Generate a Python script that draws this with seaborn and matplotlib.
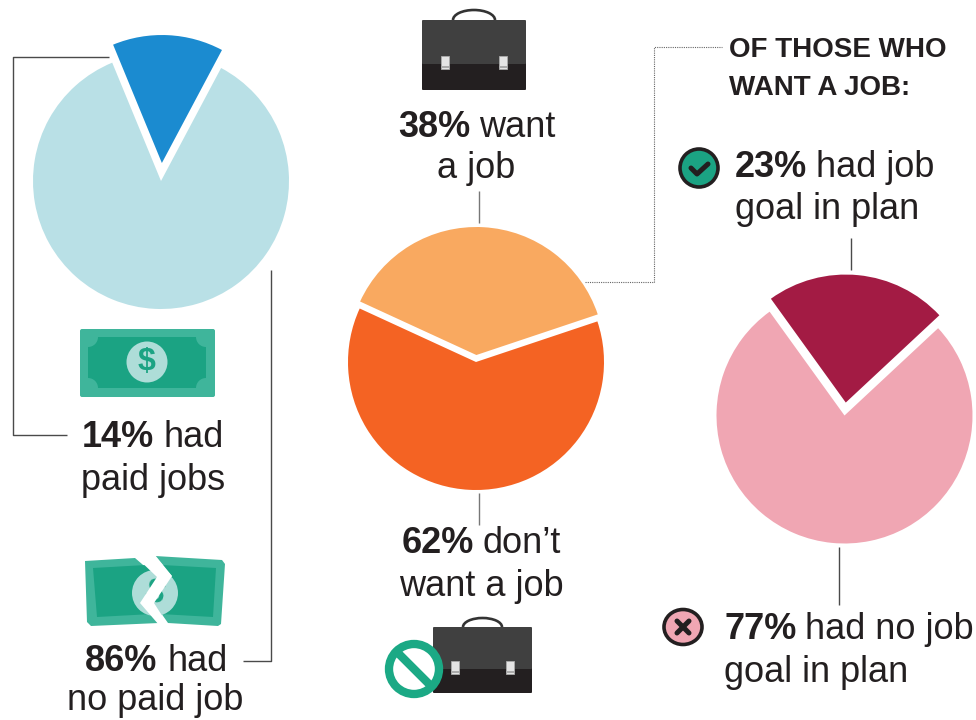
import matplotlib
matplotlib.use('Agg')
import matplotlib.pyplot as plt
import matplotlib.patches as mp
import seaborn as sns

# data
paid_values = [14, 86]
paid_colors = ['#1B8BD0', '#B9E0E6']
want_values = [38, 62]
want_colors = ['#F9A960', '#F46323']
goal_values = [23, 77]
goal_colors = ['#A31B44', '#F0A6B3']

header_lines = ['OF THOSE WHO', 'WANT A JOB:']
bold_labels = ['14%', '86%', '38%', '62%', '23%', '77%']
rest_first = ['had', 'had', 'want', 'don’t', 'had job', 'had no job']
rest_second = ['paid jobs', 'no paid job', 'a job', 'want a job', 'goal in plan', 'goal in plan']

INK = '#231F20'
LINE = '#4A4A4A'
GREEN = '#1BA383'
GREEN_L = '#3FB59B'
GREEN_XL = '#AEDDD8'

sns.set_theme(style='white')
plt.rcParams['font.family'] = ['Liberation Sans', 'DejaVu Sans']

fig = plt.figure(figsize=(9.76, 7.2), dpi=100)
ax = fig.add_axes([0, 0, 1, 1])


def Y(y):
    return 720 - y


def pts(seq):
    return [(x, Y(y)) for x, y in seq]


def pie(values, colors, cx, cy, start, gap):
    ax.pie(values, colors=colors, center=(cx, Y(cy)), radius=128, startangle=start,
           explode=[gap, 0], frame=True, counterclock=True,
           wedgeprops={'edgecolor': 'white', 'linewidth': 0})


pie(paid_values, paid_colors, 161, 181, 62, 18)
pie(want_values, want_colors, 476, 362, 18.5, 7)
pie(goal_values, goal_colors, 844.5, 415.5, 43, 13)

ax.set_xlim(0, 976)
ax.set_ylim(0, 720)
ax.set_aspect('equal')
ax.axis('off')


def line(seq, **kw):
    xs, ys = zip(*pts(seq))
    style = {'color': LINE, 'lw': 1.0, 'solid_capstyle': 'butt'}
    style.update(kw)
    ax.plot(xs, ys, **style)


line([(109, 57), (13, 57), (13, 435), (67, 435)])
line([(271, 270), (271, 661), (243, 661)])
line([(479, 191), (479, 223)], color='#777777')
line([(479, 493), (479, 525)], color='#777777')
line([(851, 238), (851, 270)])
line([(839, 547), (839, 605)])
line([(585, 282), (654, 282), (654, 47), (722, 47)], ls=(0, (1, 1)), lw=0.8, color='#666666')


def label(i, x1, x2, y1, x3, y2, size=26):
    ax.text(x1, Y(y1), bold_labels[i], fontsize=size, fontweight='bold', color=INK, ha='left', va='baseline')
    ax.text(x2, Y(y1), rest_first[i], fontsize=size, color=INK, ha='left', va='baseline')
    ax.text(x3, Y(y2), rest_second[i], fontsize=size, color=INK, ha='left', va='baseline')


label(0, 82, 163, 447, 81, 490)
label(1, 85, 167, 671, 67, 710)
label(2, 398, 479, 137, 437, 178)
label(3, 402, 483, 553, 399, 596)
label(4, 735, 816, 177, 735, 219)
label(5, 724, 805, 639, 724, 682)

# no narrow bold installed, so the header is set a little smaller to keep its width
ax.text(729, Y(57), header_lines[0], fontsize=20, fontweight='bold', color=INK, va='baseline')
ax.text(729, Y(95), header_lines[1], fontsize=20, fontweight='bold', color=INK, va='baseline')


def briefcase(x0, x1, top, mid, bottom, clasps, hx0, hx1, htop):
    ax.add_patch(mp.Arc(((hx0 + hx1) / 2, Y(top)), hx1 - hx0, 2 * (top - htop), theta1=0, theta2=180,
                        ec='#333333', lw=1.9))
    ax.add_patch(mp.FancyBboxPatch((x0 + 1, Y(bottom) + 1), x1 - x0 - 2, bottom - mid, boxstyle='round,pad=1',
                                   fc=INK, ec='none'))
    ax.add_patch(mp.FancyBboxPatch((x0 + 1, Y(mid)), x1 - x0 - 2, mid - top - 1, boxstyle='round,pad=1',
                                   fc='#404040', ec='none'))
    for cx in clasps:
        ax.add_patch(mp.Rectangle((cx, Y(mid + 6)), 8, 13, fc='#E4E4E4', ec='#AAAAAA', lw=0.6))
        ax.add_patch(mp.Rectangle((cx, Y(mid + 5)), 8, 2, fc='#AAAAAA', ec='none'))


briefcase(422, 526, 20, 63, 90, [441, 499], 453, 495, 10)
briefcase(433, 532, 627, 668, 693, [451, 506], 463, 502, 618)

# no-entry sign on the second case
ax.add_patch(mp.Circle((414, Y(669)), 25, fc='white', ec='#1BA985', lw=6))
line([(397, 652), (431, 686)], color='#1BA985', lw=6)

# whole bill
ax.add_patch(mp.FancyBboxPatch((82, Y(395)), 131, 64, boxstyle='round,pad=2', fc=GREEN_L, ec='none'))
inner = mp.Rectangle((88, Y(388)), 118, 51, fc=GREEN, ec='none')
ax.add_patch(inner)
for cx, cy in [(88, 337), (206, 337), (88, 388), (206, 388)]:
    notch = mp.Circle((cx, Y(cy)), 10, fc=GREEN_L, ec='none')
    ax.add_patch(notch)
    notch.set_clip_path(inner)
ax.add_patch(mp.Circle((147, Y(362)), 20.5, fc=GREEN_XL, ec='none'))
ax.text(147, Y(362), '$', fontsize=23, fontweight='bold', color=GREEN, ha='center', va='center')

# torn bill
ax.add_patch(mp.Polygon(pts([(85, 561), (135, 558), (157, 577), (140, 603), (159, 623), (91, 626), (87, 622)]),
                        fc=GREEN_L, ec='none'))
ax.add_patch(mp.Polygon(pts([(155, 556), (222, 560), (225, 564), (221, 624), (218, 626), (168, 623), (154, 603), (172, 576)]),
                        fc=GREEN_L, ec='none'))
ax.add_patch(mp.Polygon(pts([(93, 568), (146, 565), (157, 577), (140, 603), (152, 614), (97, 617)]), fc=GREEN, ec='none'))
ax.add_patch(mp.Polygon(pts([(162, 565), (216, 568), (213, 617), (160, 614), (154, 603), (172, 576)]), fc=GREEN, ec='none'))
ax.add_patch(mp.Circle((155, Y(593)), 23, fc=GREEN_XL, ec='none'))
ax.text(155, Y(593), '$', fontsize=24, fontweight='bold', color=GREEN, ha='center', va='center', rotation=-15)
ax.add_patch(mp.Polygon(pts([(135, 556), (155, 555), (172, 576), (154, 603), (168, 625), (159, 625), (140, 603), (157, 577)]),
                        fc='white', ec='none', zorder=4))

# check and cross badges
ax.add_patch(mp.Circle((699, Y(168)), 19, fc=GREEN, ec=INK, lw=2.6))
line([(691, 168), (697, 174), (708, 164)], color=INK, lw=3.6, solid_capstyle='round', solid_joinstyle='round')
ax.add_patch(mp.Ellipse((683, Y(627)), 38, 35, fc=goal_colors[1], ec=INK, lw=2.6))
line([(677, 621), (689, 633)], color=INK, lw=3.6, solid_capstyle='round')
line([(689, 621), (677, 633)], color=INK, lw=3.6, solid_capstyle='round')

sns.despine(ax=ax, left=True, bottom=True)
fig.savefig('out.png', dpi=100, facecolor='white')
